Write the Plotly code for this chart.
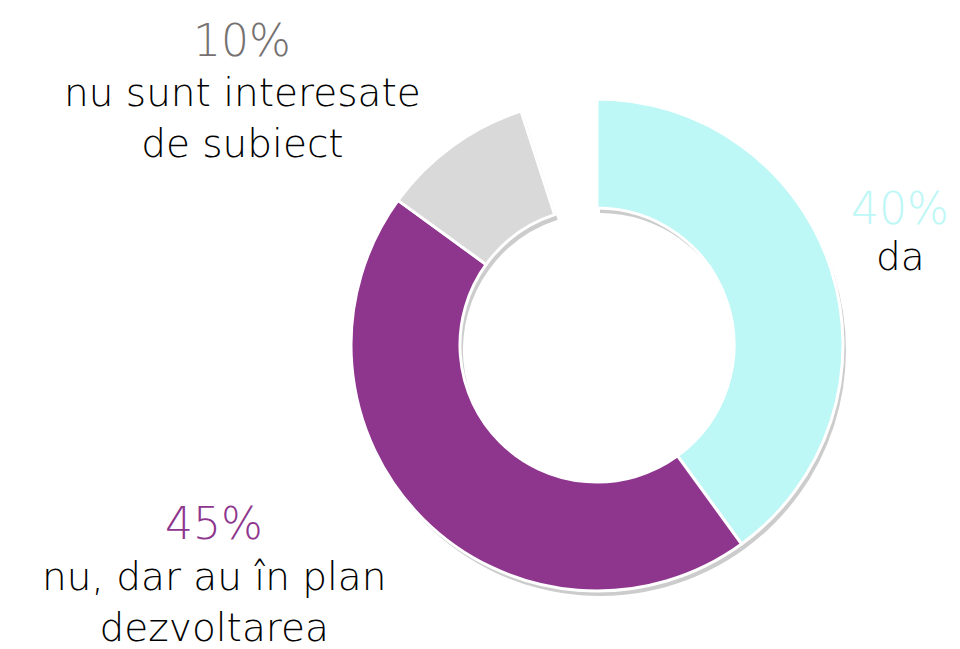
import plotly.graph_objects as go

categories = ["da", "nu, dar au în plan dezvoltarea", "nu sunt interesate de subiect", ""]
values = [40, 45, 10, 5]
colors = ["#BDF7F6", "#8E368E", "#D9D9D9", "rgba(0,0,0,0)"]
shadow_colors = ["rgba(0,0,0,0.20)", "rgba(0,0,0,0.20)", "rgba(0,0,0,0.20)", "rgba(0,0,0,0)"]

pct_labels = ["40%", "45%", "10%"]
name_labels = ["da", "nu, dar au în plan<br>dezvoltarea", "nu sunt interesate<br>de subiect"]
pct_colors = ["#BDF7F6", "#8E368E", "#767171"]

OFF = 8  # page body margin
W, H = 960 - OFF, 649 - OFF
cx, cy, r = 597 - OFF, 345 - OFF, 246

def dom(dx=0, dy=0):
    return dict(x=[(cx - r + dx) / W, (cx + r + dx) / W],
                y=[1 - (cy + r + dy) / H, 1 - (cy - r + dy) / H])

fig = go.Figure()
fig.add_trace(go.Pie(
    labels=categories, values=values, hole=0.557, sort=False,
    direction="clockwise", rotation=0, domain=dom(3, 5),
    marker=dict(colors=shadow_colors, line=dict(width=0)),
    textinfo="none", hoverinfo="skip", showlegend=False,
))
fig.add_trace(go.Pie(
    labels=categories, values=values, hole=0.557, sort=False,
    direction="clockwise", rotation=0, domain=dom(),
    marker=dict(colors=colors, line=dict(color=["white", "white", "white", "rgba(0,0,0,0)"], width=3)),
    textinfo="none", showlegend=False,
))

font_family = "DejaVu Sans"
pos = [(900, 209, 256), (214, 523, 602), (242, 40, 118)]
for (x, yp, yl), p, n, c in zip(pos, pct_labels, name_labels, pct_colors):
    fig.add_annotation(x=(x - OFF) / W, y=1 - (yp - OFF) / H, xref="paper", yref="paper",
                       text=p, showarrow=False, xanchor="center", yanchor="middle",
                       font=dict(family=font_family, size=44, color=c, weight=300))
    fig.add_annotation(x=(x - OFF) / W, y=1 - (yl - OFF) / H, xref="paper", yref="paper",
                       text=n, showarrow=False, xanchor="center", yanchor="middle",
                       align="center",
                       font=dict(family=font_family, size=39, color="black", weight=300))

fig.update_layout(width=W, height=H, margin=dict(l=0, r=0, t=0, b=0),
                  paper_bgcolor="white", plot_bgcolor="white", showlegend=False)
fig.write_html("out.html")
